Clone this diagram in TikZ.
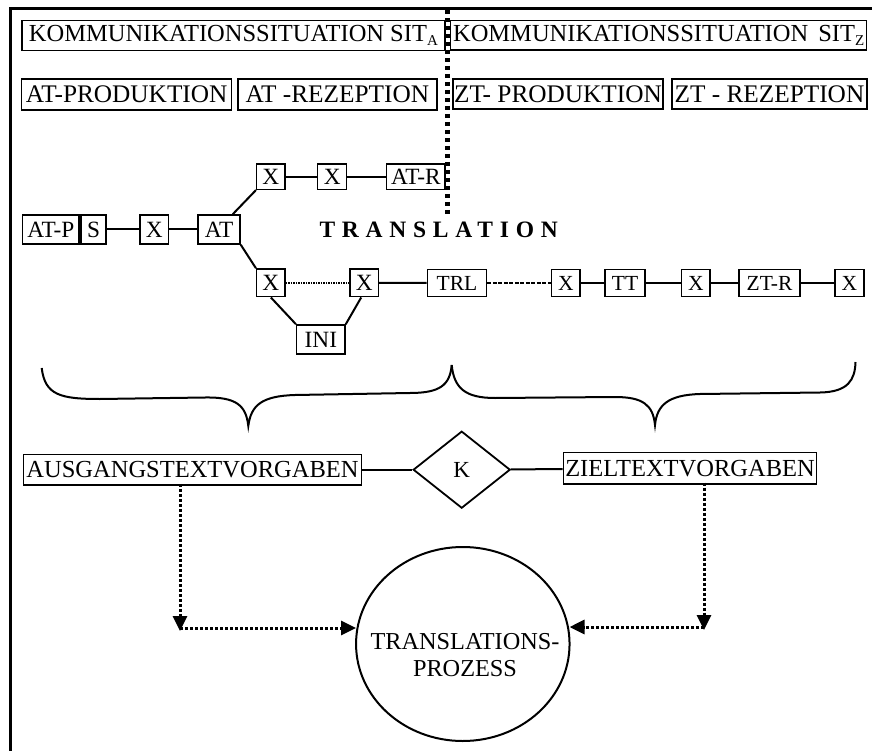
\documentclass[tikz,border=0pt]{standalone}
\usepackage{fontspec}
\setmainfont{Liberation Serif}
\newfontfamily\spacedbold[LetterSpace=28.8]{Liberation Serif}
\usetikzlibrary{shapes.geometric,arrows.meta,calc}
\newcommand\lowsub[1]{\raisebox{-0.15em}{\fontsize{15}{15}\selectfont #1}}
\tikzset{
 bx/.style={draw, line width=1.5pt, inner sep=0pt, font=\fontsize{25.3}{28}\selectfont},
 tbx/.style={draw, line width=1.5pt, inner sep=0pt, font=\fontsize{24.5}{28}\selectfont},
 sbx/.style={draw, line width=1.5pt, inner sep=0pt, font=\fontsize{23.3}{26}\selectfont},
 rbx/.style={draw, line width=1.5pt, inner sep=0pt, font=\fontsize{21.5}{24}\selectfont},
 link/.style={line width=2pt},
 fdot/.style={line width=1.5pt, dash pattern=on 1.5pt off 1pt},
 fdash/.style={line width=1.5pt, dash pattern=on 4pt off 1.5pt},
 darr/.style={line width=3pt, dash pattern=on 3pt off 2pt, -{Triangle[length=15pt,width=14pt]}},
 sepline/.style={line width=4.5pt, dash pattern=on 4.5pt off 3.5pt},
 brace/.style={line width=2pt},
}
\begin{document}
\begin{tikzpicture}[x=1pt,y=-1pt]
\useasboundingbox (0,0) rectangle (872,751);
% frame
\draw[line width=3pt] (10.5,751) -- (10.5,8.7) -- (872,8.7);

% top row
\node[tbx, minimum width=423.3, minimum height=30] (sitA) at (233.4,35.7) {KOMMUNIKATIONSSITUATION SIT\lowsub{A}};
\node[tbx, minimum width=416, minimum height=29.5] (sitZ) at (658.7,35.4) {KOMMUNIKATIONSSITUATION\hspace{4pt} SIT\lowsub{Z}};
\node[bx, minimum width=210, minimum height=31] (atprod) at (126.7,94.5) {AT-PRODUKTION};
\node[bx, minimum width=198.7, minimum height=31] (atrez) at (337.4,94.5) {AT -REZEPTION};
\node[bx, minimum width=210, minimum height=30] (ztprod) at (558,94) {ZT- PRODUKTION};
\node[bx, minimum width=194.7, minimum height=30] (ztrez) at (769.4,94) {ZT - REZEPTION};

% separator
\coordinate (vtop) at (447.5,10);
\coordinate (vbot) at (447.5,214);
\draw[sepline] (vtop) -- (vbot);

% chain
\node[sbx, minimum width=56.3, minimum height=29] (atp) at (50.85,229.5) {AT-P};
\node[sbx, minimum width=25, minimum height=29] (s) at (93.5,229.5) {S};
\node[sbx, minimum width=28.3, minimum height=29] (x1) at (154.2,229.5) {X};
\node[sbx, minimum width=42, minimum height=29] (at) at (219,229.5) {AT};
\node[sbx, minimum width=28.3, minimum height=25.3] (ux1) at (270.85,176.7) {X};
\node[sbx, minimum width=29, minimum height=25.3] (ux2) at (332.2,176.7) {X};
\node[sbx, minimum width=58.3, minimum height=25.3] (atr) at (415.85,176.7) {AT-R};
\node[sbx, minimum width=28.3, minimum height=27.7] (lx1) at (270.85,282.85) {X};
\node[sbx, minimum width=28.3, minimum height=27.7] (lx2) at (364.2,282.85) {X};
\node[sbx, minimum width=48.3, minimum height=29] (ini) at (320.85,339.5) {INI};
\node[rbx, minimum width=59.4, minimum height=27.4] (trl) at (457,283) {TRL};
\node[rbx, minimum width=28.3, minimum height=27.4] (zx1) at (565.85,283) {X};
\node[rbx, minimum width=40, minimum height=27.4] (tt) at (625,283) {TT};
\node[rbx, minimum width=28.3, minimum height=27.4] (zx2) at (695.85,283) {X};
\node[rbx, minimum width=61, minimum height=27.4] (ztr) at (769.5,283) {ZT-R};
\node[rbx, minimum width=29, minimum height=27.4] (zx3) at (849.5,283) {X};

\node[anchor=base west, inner sep=0pt, font=\fontsize{23.5}{26}\spacedbold\bfseries] (transl) at (319.3,237.3) {TRANSLATION};

\draw[link] (s) -- (x1);
\draw[link] (x1) -- (at);
\draw[link] (at.48) -- (ux1.south west);
\draw[link] (at.south east) -- (lx1.north west);
\draw[link] (ux1) -- (ux2);
\draw[link] (ux2) -- (atr);
\draw[fdot] (lx1) -- (lx2);
\draw[link] (lx1.south) -- (ini.north west);
\draw[link] ([xshift=-3pt]lx2.south) -- (ini.north east);
\draw[link] (lx2) -- (trl);
\draw[fdash] (trl) -- (zx1);
\draw[link] (zx1) -- (tt);
\draw[link] (tt) -- (zx2);
\draw[link] (zx2) -- (ztr);
\draw[link] (ztr) -- (zx3);

% braces
\draw[brace] (41.7,368) .. controls (45,395) and (60,399) .. (100,399) -- (205,397.5)
  .. controls (236,397) and (246,405) .. (248.3,426)
  .. controls (251,405) and (262,396) .. (295,395) -- (410,393)
  .. controls (440,393) and (450,385) .. (451.7,365);
\draw[brace] (451.7,365) .. controls (454,388) and (465,398) .. (495,398) -- (615,397)
  .. controls (643,397) and (653,405) .. (655,425)
  .. controls (657,405) and (668,395) .. (700,394) -- (820,392.5)
  .. controls (848,392) and (855,380) .. (855.5,362);

% lower part
\node[tbx, minimum width=338.4, minimum height=30.7] (aus) at (192.5,469.7) {AUSGANGSTEXTVORGABEN};
\node[tbx, minimum width=253.4, minimum height=31.3] (ziel) at (690,468.3) {ZIELTEXTVORGABEN};
\node[diamond, draw, line width=1.8pt, inner sep=0pt, minimum width=97, minimum height=77, font=\fontsize{23}{24}\selectfont] (k) at (461.7,469.7) {K};
\draw[link] (aus) -- (k);
\draw[link] (k) -- (ziel);

\node[ellipse, draw, line width=2pt, minimum width=213.5, minimum height=194, inner sep=0pt] (circ) at (462.8,644) {};
\node[align=center, inner sep=0pt, font=\fontsize{24.3}{27}\selectfont] (circtext) at (465,654.6) {TRANSLATIONS-\\PROZESS};

\coordinate (cl) at (180,628);
\coordinate (cr) at (704,627);
\draw[darr] ([yshift=2pt]aus.south -| cl) -- ([yshift=-3pt]cl);
\draw[darr] (cl) -- ([xshift=1pt]cl -| circ.west);
\draw[darr] ([yshift=2pt]ziel.south -| cr) -- ([yshift=-3pt]cr);
\draw[darr] (cr) -- ([xshift=-1pt]cr -| circ.east);
\end{tikzpicture}
\end{document}
